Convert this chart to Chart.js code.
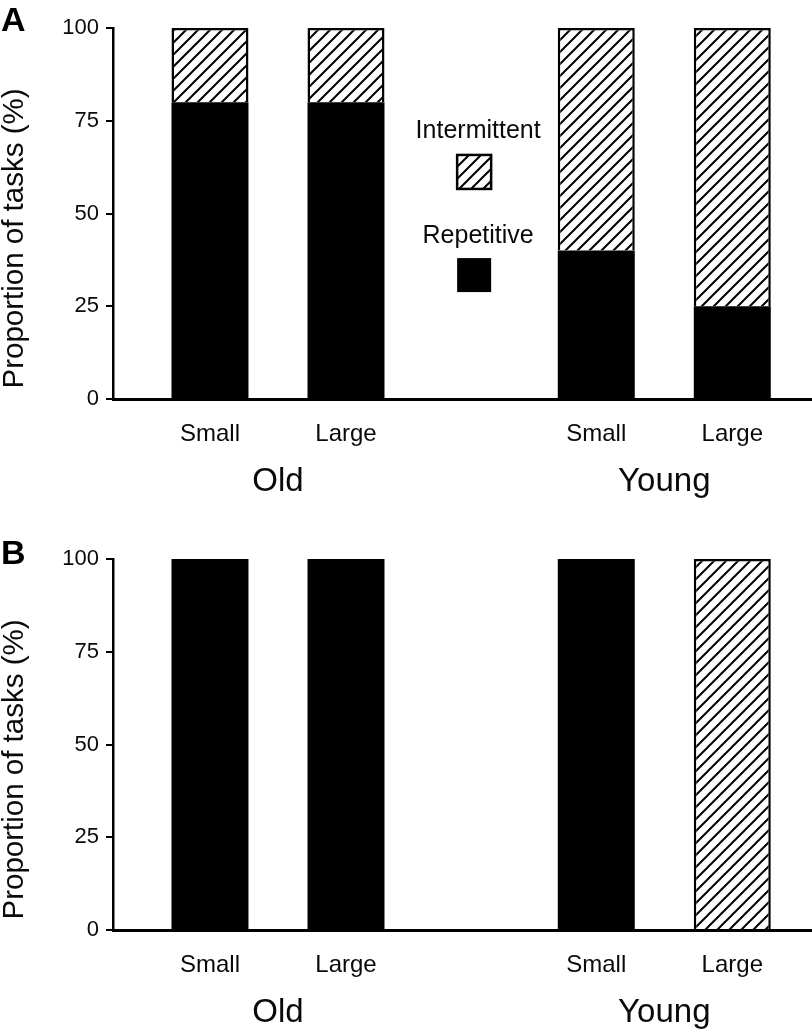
<!DOCTYPE html>
<html>
<head>
<meta charset="utf-8">
<script src="https://cdn.jsdelivr.net/npm/chart.js@4.4.1/dist/chart.umd.min.js"></script>
<style>
  html, body { margin: 0; padding: 0; background: #fff; overflow: hidden; }
  #wrap { position: relative; width: 812px; height: 1033px; }
  canvas { position: absolute; left: 0; }
  #cA { top: 0; }
  #cB { top: 531px; }
</style>
</head>
<body>
<div id="wrap">
  <canvas id="cA" width="812" height="531"></canvas>
  <canvas id="cB" width="812" height="502"></canvas>
</div>
<script>
// ---- DATA ----
const categories = ['Small', 'Large', 'Small', 'Large'];
const groupOf = [0, 0, 1, 1];
const groups = ['Old', 'Young'];
const seriesNames = ['Repetitive', 'Intermittent'];
const repetitiveA = [80, 80, 40, 25];
const intermittentA = [20, 20, 60, 75];
const repetitiveB = [100, 100, 100, 0];
const intermittentB = [0, 0, 0, 100];
const yTicks = [0, 25, 50, 75, 100];
const yTitle = 'Proportion of tasks (%)';

// ---- layout constants ----
const GROUP_GAP = 2.84;
const FONT = '"Liberation Sans", Arial, Helvetica, sans-serif';
const INK = '#0a0a0a';

const positions = categories.map((c, i) => groupOf[i] * GROUP_GAP + (i - groupOf.indexOf(groupOf[i])));

function makeHatch() {
  const s = 12;
  const c = document.createElement('canvas');
  c.width = s; c.height = s;
  const g = c.getContext('2d');
  g.fillStyle = '#fff';
  g.fillRect(0, 0, s, s);
  g.strokeStyle = '#000';
  g.lineWidth = 2;
  g.beginPath();
  g.moveTo(0, s); g.lineTo(s, 0);
  g.moveTo(-s / 2, s / 2); g.lineTo(s / 2, -s / 2);
  g.moveTo(s / 2, s + s / 2); g.lineTo(s + s / 2, s / 2);
  g.stroke();
  return c;
}
const hatchTile = makeHatch();

function pts(vals) { return vals.map((v, i) => ({ x: positions[i], y: v })); }

const decorPlugin = {
  id: 'decor',
  afterDraw(chart, args, opts) {
    const ctx = chart.ctx;
    const ca = chart.chartArea;
    const xs = chart.scales.x;
    const ys = chart.scales.y;
    ctx.save();
    // panel letter
    ctx.fillStyle = '#000';
    ctx.font = 'bold 34px ' + FONT;
    ctx.textAlign = 'left';
    ctx.textBaseline = 'alphabetic';
    ctx.fillText(opts.letter, 1, opts.letterY);
    // y title
    ctx.fillStyle = INK;
    ctx.font = '29.5px ' + FONT;
    ctx.translate(15, (ca.top + ca.bottom) / 2 + 25);
    ctx.rotate(-Math.PI / 2);
    ctx.textAlign = 'center';
    ctx.textBaseline = 'middle';
    ctx.fillText(yTitle, 0, 0);
    ctx.restore();
    // group labels
    ctx.save();
    ctx.fillStyle = INK;
    ctx.font = '33px ' + FONT;
    ctx.textAlign = 'center';
    ctx.textBaseline = 'middle';
    groups.forEach((g, gi) => {
      const idx = groupOf.map((v, i) => v === gi ? i : -1).filter(i => i >= 0);
      const a = xs.getPixelForValue(positions[idx[0]]);
      const b = xs.getPixelForValue(positions[idx[idx.length - 1]]);
      ctx.fillText(g, (a + b) / 2, ca.bottom + 83);
    });
    ctx.restore();
    // legend
    if (opts.legend) {
      const cx = (xs.getPixelForValue(positions[1]) + xs.getPixelForValue(positions[2])) / 2 + 3;
      const box = 34;
      ctx.save();
      ctx.fillStyle = INK;
      ctx.font = '25px ' + FONT;
      ctx.textAlign = 'center';
      ctx.textBaseline = 'middle';
      const order = [1, 0];
      const textVals = [72.2, 43.9];
      const boxVals = [61.2, 33.4];
      order.forEach((di, k) => {
        const ds = chart.data.datasets[di];
        ctx.fillStyle = INK;
        ctx.fillText(ds.label, cx + 4, ys.getPixelForValue(textVals[k]));
        const by = ys.getPixelForValue(boxVals[k]) - box / 2;
        if (di === 1) {
          ctx.fillStyle = ctx.createPattern(hatchTile, 'repeat');
          ctx.fillRect(cx - box / 2, by, box, box);
          ctx.lineWidth = 2.5;
          ctx.strokeStyle = '#000';
          ctx.strokeRect(cx - box / 2, by, box, box);
        } else {
          ctx.fillStyle = '#000';
          ctx.fillRect(cx - box / 2, by, box, box);
        }
      });
      ctx.restore();
    }
  }
};

function makeChart(id, rep, inter, letter, letterY, legend) {
  const canvas = document.getElementById(id);
  const ctx = canvas.getContext('2d');
  const pattern = ctx.createPattern(hatchTile, 'repeat');
  return new Chart(ctx, {
    type: 'bar',
    data: {
      datasets: [
        {
          label: seriesNames[0],
          data: pts(rep),
          backgroundColor: '#000',
          borderWidth: 0,
          categoryPercentage: 1,
          barPercentage: 0.566
        },
        {
          label: seriesNames[1],
          data: pts(inter),
          backgroundColor: pattern,
          borderColor: '#000',
          borderWidth: (c) => (c.raw && c.raw.y > 0 ? 2.5 : 0),
          borderSkipped: 'start',
          categoryPercentage: 1,
          barPercentage: 0.566
        }
      ]
    },
    options: {
      responsive: false,
      animation: false,
      devicePixelRatio: 1,
      layout: { padding: { top: 28, right: 0, left: 0, bottom: 0 } },
      plugins: {
        legend: { display: false },
        tooltip: { enabled: false },
        decor: { letter: letter, letterY: letterY, legend: legend }
      },
      scales: {
        x: {
          type: 'linear',
          stacked: true,
          offset: false,
          min: -0.713,
          max: 4.426,
          afterBuildTicks: (s) => { s.ticks = positions.map(v => ({ value: v })); },
          afterFit: (s) => { s.height = s.chart.height - 399; },
          grid: { display: false, drawTicks: false },
          border: { display: true, color: '#000', width: 3 },
          ticks: {
            autoSkip: false,
            maxRotation: 0,
            padding: 21,
            color: INK,
            font: { family: FONT, size: 24 },
            callback: (v, i) => categories[i]
          }
        },
        y: {
          stacked: true,
          min: 0,
          max: 100,
          afterBuildTicks: (s) => { s.ticks = yTicks.map(v => ({ value: v })); },
          afterFit: (s) => { s.width = 113; },
          grid: { display: true, drawOnChartArea: false, drawTicks: true, tickLength: 7, color: '#000', lineWidth: 2 },
          border: { display: true, color: '#000', width: 2.5 },
          ticks: {
            padding: 7,
            color: INK,
            font: { family: FONT, size: 22 }
          }
        }
      }
    },
    plugins: [decorPlugin]
  });
}

makeChart('cA', repetitiveA, intermittentA, 'A', 31, true);
makeChart('cB', repetitiveB, intermittentB, 'B', 33, false);
</script>
</body>
</html>
